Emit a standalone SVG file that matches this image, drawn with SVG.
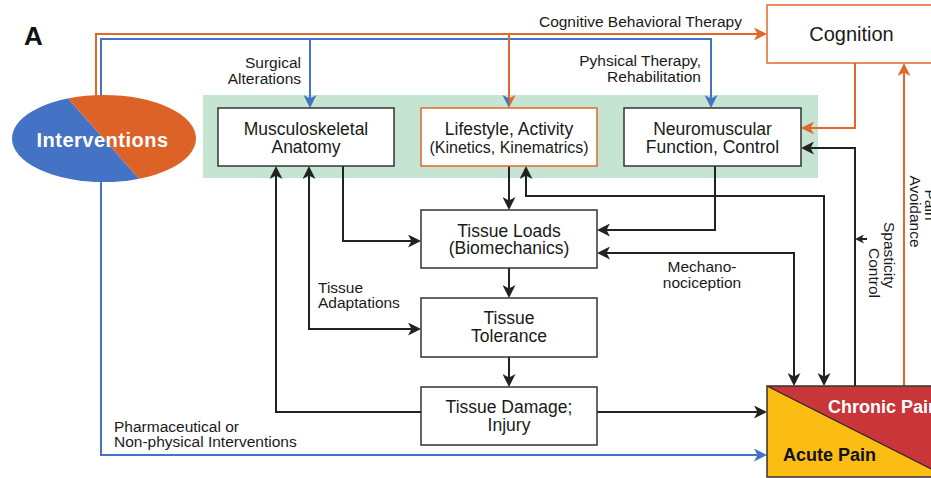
<svg xmlns="http://www.w3.org/2000/svg" width="931" height="478" viewBox="0 0 931 478">
  <style>
    .box { fill: #ffffff; stroke: #333333; stroke-width: 1.5; }
    .obox { fill: #ffffff; stroke: #E2672A; stroke-width: 1.5; }
    .bt { font-family: "Liberation Sans", Arial, sans-serif; font-size: 17.5px; fill: #1a1a1a; text-anchor: middle; }
    .bt.sm { font-size: 16px; }
    .bt.lg { font-size: 20px; }
    .lbl { font-family: "Liberation Sans", Arial, sans-serif; font-size: 15.5px; fill: #1a1a1a; }
    .k { fill: none; stroke: #222222; stroke-width: 2; }
    .b { fill: none; stroke: #4472C4; stroke-width: 2; }
    .o { fill: none; stroke: #E2672A; stroke-width: 2; }
  </style>
  <defs>
    <marker id="ak" viewBox="0 0 13 13" refX="9" refY="6.5" markerWidth="13" markerHeight="13" markerUnits="userSpaceOnUse" orient="auto-start-reverse">
      <path d="M0,0 L13,6.5 L0,13 L3.5,6.5 z" fill="#222222"/>
    </marker>
    <marker id="ab" viewBox="0 0 13 13" refX="9" refY="6.5" markerWidth="13" markerHeight="13" markerUnits="userSpaceOnUse" orient="auto-start-reverse">
      <path d="M0,0 L13,6.5 L0,13 L3.5,6.5 z" fill="#4472C4"/>
    </marker>
    <marker id="ao" viewBox="0 0 13 13" refX="9" refY="6.5" markerWidth="13" markerHeight="13" markerUnits="userSpaceOnUse" orient="auto-start-reverse">
      <path d="M0,0 L13,6.5 L0,13 L3.5,6.5 z" fill="#E2672A"/>
    </marker>
    <marker id="aks" viewBox="0 0 9 9" refX="6" refY="4.5" markerWidth="9" markerHeight="9" markerUnits="userSpaceOnUse" orient="auto">
      <path d="M0,0 L9,4.5 L0,9 L2.5,4.5 z" fill="#222222"/>
    </marker>
    <clipPath id="ellclip">
      <ellipse cx="104" cy="138.5" rx="92" ry="43.5"/>
    </clipPath>
  </defs>

  <rect width="931" height="478" fill="#ffffff"/>

  <!-- panel letter -->
  <text x="24" y="45" font-family="Liberation Sans, Arial, sans-serif" font-size="26" font-weight="bold" fill="#111111">A</text>

  <!-- green band behind the three mechanism boxes -->
  <rect x="203" y="95" width="615" height="83" fill="#C5E5D2"/>

  <!-- connectors -->
  <g id="connectors">
    <!-- black -->
    <path class="k" d="M343,166 V241 H417" marker-end="url(#ak)"/>
    <path class="k" d="M309,170 V329 H417" marker-start="url(#ak)" marker-end="url(#ak)"/>
    <path class="k" d="M421,412 H276 V170" marker-end="url(#ak)"/>
    <path class="k" d="M509,166 V206" marker-end="url(#ak)"/>
    <path class="k" d="M526,170 V196 H824 V382" marker-start="url(#ak)" marker-end="url(#ak)"/>
    <path class="k" d="M715,166 V230 H601" marker-end="url(#ak)"/>
    <path class="k" d="M601,253 H794 V382" marker-start="url(#ak)" marker-end="url(#ak)"/>
    <path class="k" d="M509,268 V294" marker-end="url(#ak)"/>
    <path class="k" d="M509,357 V383" marker-end="url(#ak)"/>
    <path class="k" d="M597,412 H763" marker-end="url(#ak)"/>
    <path class="k" d="M855,386 V148 H805" marker-end="url(#ak)"/>
    <path class="k" d="M867,239 H858" marker-end="url(#aks)"/>

    <!-- blue -->
    <path class="b" d="M101,97 V39 H711 V104" marker-end="url(#ab)"/>
    <path class="b" d="M310,39 V104" marker-end="url(#ab)"/>
    <path class="b" d="M101,180 V455 H763" marker-end="url(#ab)"/>

    <!-- orange -->
    <path class="o" d="M96,97 V34 H763" marker-end="url(#ao)"/>
    <path class="o" d="M509,34 V99"/>
    <polygon points="502.5,95 509,98.5 509,108" fill="#4472C4"/>
    <polygon points="515.5,95 509,98.5 509,108" fill="#E2672A"/>
    <path class="o" d="M855,63 V128 H805" marker-end="url(#ao)"/>
    <path class="o" d="M904,386 V67" marker-end="url(#ao)"/>
  </g>

  <!-- connector labels -->
  <g id="labels">
    <text class="lbl" x="742" y="27" text-anchor="end">Cognitive Behavioral Therapy</text>
    <text class="lbl" x="301" y="68" text-anchor="end">Surgical</text>
    <text class="lbl" x="301" y="84" text-anchor="end">Alterations</text>
    <text class="lbl" x="701" y="66" text-anchor="end">Pyhsical Therapy,</text>
    <text class="lbl" x="701" y="82" text-anchor="end">Rehabilitation</text>
    <text class="lbl" x="318" y="293">Tissue</text>
    <text class="lbl" x="318" y="308">Adaptations</text>
    <text class="lbl" x="702" y="272" text-anchor="middle">Mechano-</text>
    <text class="lbl" x="702" y="288" text-anchor="middle">nociception</text>
    <text class="lbl" x="114" y="432">Pharmaceutical or</text>
    <text class="lbl" x="114" y="447">Non-physical Interventions</text>
    <text class="lbl" transform="translate(884,222) rotate(90)">Spasticity</text>
    <text class="lbl" transform="translate(869,248) rotate(90)">Control</text>
    <text class="lbl" transform="translate(925,205) rotate(90)" text-anchor="middle">Pain</text>
    <text class="lbl" transform="translate(910,211.5) rotate(90)" text-anchor="middle">Avoidance</text>
  </g>

  <!-- nodes -->
  <g id="interventions">
    <g clip-path="url(#ellclip)">
      <polygon points="0,90 60.6,90 149,190 0,190" fill="#4472C4"/>
      <polygon points="60.6,90 210,90 210,190 149,190" fill="#DD6227"/>
    </g>
    <text x="102.5" y="147" font-family="Liberation Sans, Arial, sans-serif" font-size="20" font-weight="bold" letter-spacing="0.5" fill="#ffffff" text-anchor="middle">Interventions</text>
  </g>

  <g id="musculoskeletal">
    <rect class="box" x="218" y="108" width="176" height="58"/>
    <text class="bt" x="306" y="135">Musculoskeletal</text>
    <text class="bt" x="306" y="153">Anatomy</text>
  </g>

  <g id="lifestyle">
    <rect class="obox" x="421" y="108" width="176" height="58"/>
    <text class="bt" x="509" y="135">Lifestyle, Activity</text>
    <text class="bt sm" x="509" y="153">(Kinetics, Kinematrics)</text>
  </g>

  <g id="neuromuscular">
    <rect class="box" x="624" y="108" width="177" height="58"/>
    <text class="bt" x="712.5" y="135">Neuromuscular</text>
    <text class="bt" x="712.5" y="153">Function, Control</text>
  </g>

  <g id="cognition">
    <rect class="obox" x="767" y="5" width="170" height="58"/>
    <text class="bt lg" x="851.5" y="41">Cognition</text>
  </g>

  <g id="tissue-loads">
    <rect class="box" x="421" y="210" width="176" height="58"/>
    <text class="bt" x="509" y="237">Tissue Loads</text>
    <text class="bt" x="509" y="254">(Biomechanics)</text>
  </g>

  <g id="tissue-tolerance">
    <rect class="box" x="421" y="298" width="176" height="59"/>
    <text class="bt" x="509" y="324">Tissue</text>
    <text class="bt" x="509" y="342">Tolerance</text>
  </g>

  <g id="tissue-damage">
    <rect class="box" x="421" y="387" width="176" height="58"/>
    <text class="bt" x="509" y="413">Tissue Damage;</text>
    <text class="bt" x="509" y="431">Injury</text>
  </g>

  <g id="pain">
    <polygon points="767,386 947,477 767,477" fill="#FBBD14"/>
    <polygon points="767,386 947,386 947,477" fill="#C8363A"/>
    <line x1="767" y1="386" x2="947" y2="477" stroke="#222222" stroke-width="1.2"/>
    <rect x="767" y="386" width="180" height="91" fill="none" stroke="#333333" stroke-width="1.5"/>
    <text x="828" y="413" font-family="Liberation Sans, Arial, sans-serif" font-size="18" font-weight="bold" fill="#ffffff">Chronic Pain</text>
    <text x="783" y="461" font-family="Liberation Sans, Arial, sans-serif" font-size="18" font-weight="bold" fill="#111111">Acute Pain</text>
  </g>
</svg>
